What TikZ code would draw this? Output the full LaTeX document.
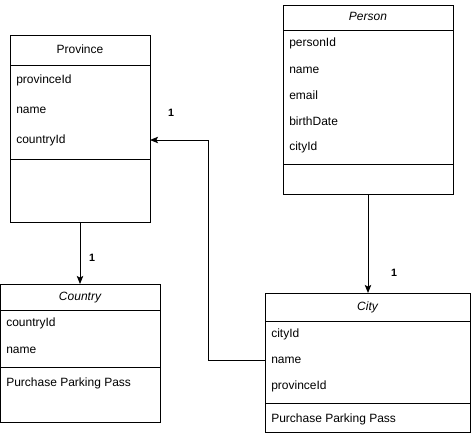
\documentclass[tikz,border=0pt]{standalone}
\usepackage{fontspec}
\setmainfont{Liberation Sans}
\usetikzlibrary{arrows.meta}
\begin{document}
\begin{tikzpicture}[x=0.75pt,y=-0.75pt,
  font=\fontsize{9}{11}\selectfont,
  box/.style={draw, line width=0.75pt, inner sep=0pt, outer sep=0pt, anchor=north west},
  sep/.style={line width=0.75pt},
  attr/.style={anchor=west, inner sep=0pt, text height=6.6pt, text depth=1.9pt},
  hdr/.style={anchor=center, inner sep=0pt, text height=6.6pt, text depth=1.9pt},
  lbl/.style={anchor=center, inner sep=0pt, font=\fontsize{8}{10}\selectfont\bfseries},
  conn/.style={draw, line width=0.75pt, -{Stealth[length=6pt,width=4.8pt,inset=1.2pt]}}]
\useasboundingbox (0,0) rectangle (471,436);

% Province
\node[box, minimum width={140*0.75pt}, minimum height={187*0.75pt}] (province) at (10,35) {};
\draw[sep] (10,65) -- (150,65);
\draw[sep] (10,159) -- (150,159);
\node[hdr] (provhdr) at (80,50) {Province};
\node[attr] (provid) at (16,80) {provinceId};
\node[attr] (provname) at (16,110) {name};
\node[attr] (provcountry) at (16,140) {countryId};

% Person
\node[box, minimum width={170*0.75pt}, minimum height={189*0.75pt}] (person) at (283,5) {};
\draw[sep] (283,30) -- (453,30);
\draw[sep] (283,164) -- (453,164);
\node[hdr] (perhdr) at (368,17.5) {\itshape Person};
\node[attr] (perid) at (289,43.5) {personId};
\node[attr] (pername) at (289,70) {name};
\node[attr] (peremail) at (289,96) {email};
\node[attr] (perbirth) at (289,122) {birthDate};
\node[attr] (percity) at (289,147) {cityId};

% Country
\node[box, minimum width={159.5*0.75pt}, minimum height={138*0.75pt}] (country) at (0.5,284) {};
\draw[sep] (0.5,310) -- (160,310);
\draw[sep] (0.5,367) -- (160,367);
\node[hdr] (cnthdr) at (80,297.5) {\itshape Country};
\node[attr] (cntid) at (6,323.5) {countryId};
\node[attr] (cntname) at (6,350) {name};
\node[attr] (cntop) at (6,383) {Purchase Parking Pass};

% City
\node[box, minimum width={205*0.75pt}, minimum height={139*0.75pt}] (city) at (265,293) {};
\draw[sep] (265,321) -- (470,321);
\draw[sep] (265,403) -- (470,403);
\node[hdr] (cityhdr) at (367.5,307.5) {\itshape City};
\node[attr] (cityid) at (271,334) {cityId};
\node[attr] (cityname) at (271,360) {name};
\node[attr] (cityprov) at (271,386) {provinceId};
\node[attr] (cityop) at (271,419) {Purchase Parking Pass};

% Connectors
\coordinate (bend) at (208,140);
\draw[conn] (province.south) -- (province.south |- country.north);
\draw[conn] (person.south) -- (person.south |- city.north);
\draw[conn] (city.west |- cityname) -| (bend) -- (province.east |- provcountry);

% Labels
\node[lbl] (l1) at (171,113) {1};
\node[lbl] (l2) at (92,258) {1};
\node[lbl] (l3) at (394,273) {1};
\end{tikzpicture}
\end{document}
